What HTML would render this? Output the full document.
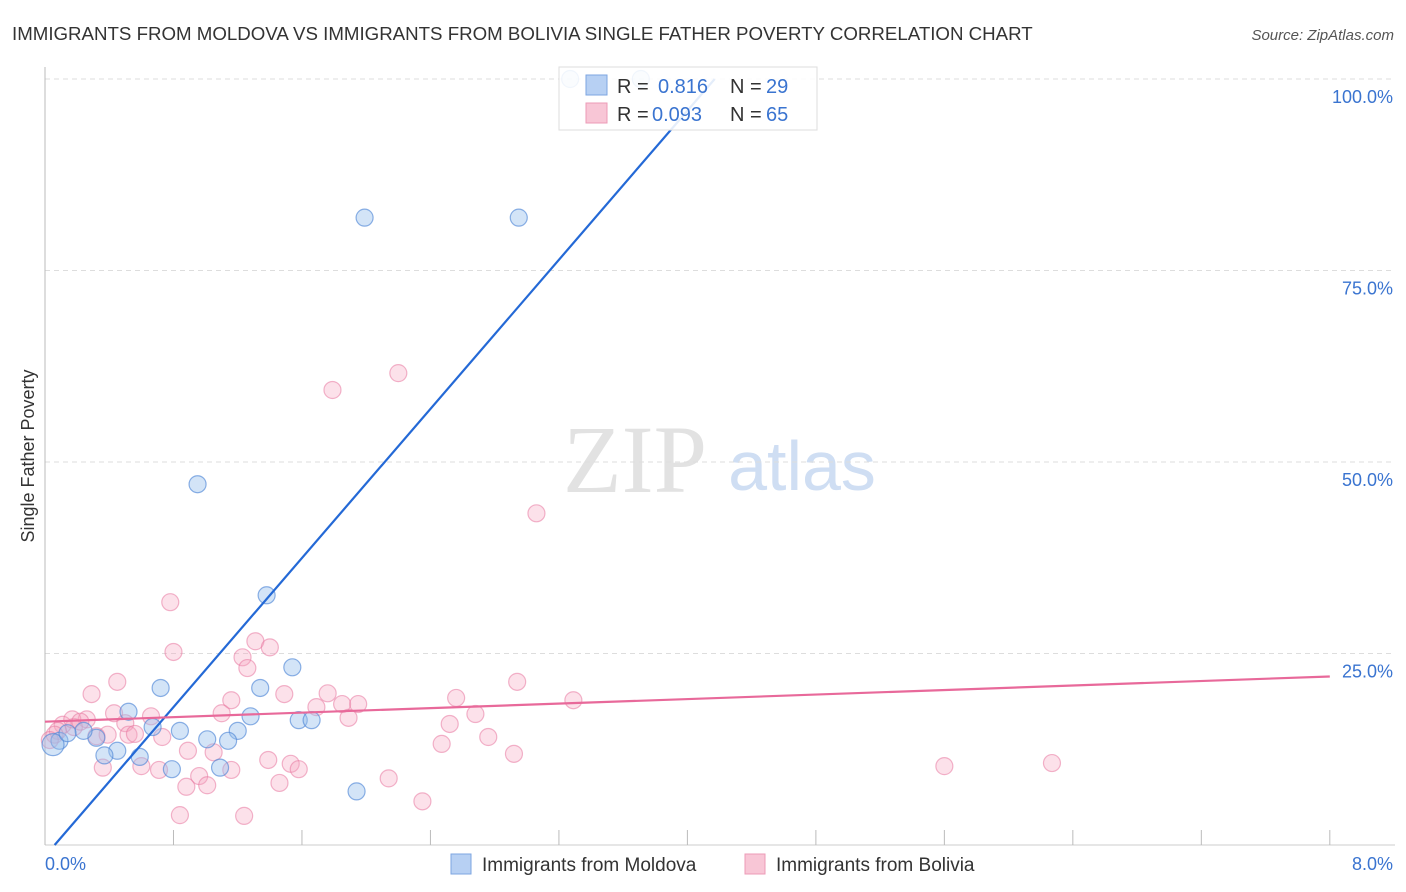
<!DOCTYPE html>
<html><head><meta charset="utf-8"><style>
body{margin:0;background:#fff;font-family:"Liberation Sans",sans-serif;}
svg{display:block}
</style></head><body>
<svg id="c" width="1406" height="892">
<text x="12" y="40" font-size="18.7" fill="#333">IMMIGRANTS FROM MOLDOVA VS IMMIGRANTS FROM BOLIVIA SINGLE FATHER POVERTY CORRELATION CHART</text>
<text x="1394" y="40" font-size="15" fill="#555" font-style="italic" text-anchor="end">Source: ZipAtlas.com</text>
<text x="34" y="456" font-size="18" fill="#333" text-anchor="middle" transform="rotate(-90 34 456)">Single Father Poverty</text>
<g>
<text x="635" y="492" font-size="96" fill="#e2e2e2" text-anchor="middle" font-family="Liberation Serif,serif">ZIP</text>
<text x="802" y="490" font-size="70" fill="#cfdef3" text-anchor="middle">atlas</text>
</g>
<g id="grid"></g><g id="ticks"></g><g id="pts"></g><g id="lines"></g>
<g>
<rect x="559" y="67" width="258" height="63" fill="rgba(255,255,255,0.88)" stroke="#ddd"/>
<rect x="586" y="75" width="21" height="20" fill="#b7d0f3" stroke="#7ea6e0"/>
<rect x="586" y="103" width="21" height="20" fill="#f8c6d6" stroke="#ec9bb7"/>
<text x="617" y="93" font-size="20" fill="#333">R = </text><text x="658" y="93" font-size="20" fill="#3a74d0">0.816</text>
<text x="730" y="93" font-size="20" fill="#333">N = </text><text x="766" y="93" font-size="20" fill="#3a74d0">29</text>
<text x="617" y="121" font-size="20" fill="#333">R = </text><text x="652" y="121" font-size="20" fill="#3a74d0">0.093</text>
<text x="730" y="121" font-size="20" fill="#333">N = </text><text x="766" y="121" font-size="20" fill="#3a74d0">65</text>
</g>
<g>
<rect x="451" y="854" width="20" height="20" fill="#b7d0f3" stroke="#7ea6e0"/>
<text x="482" y="871" font-size="19" fill="#333">Immigrants from Moldova</text>
<rect x="745" y="854" width="20" height="20" fill="#f8c6d6" stroke="#ec9bb7"/>
<text x="776" y="871" font-size="19" fill="#333">Immigrants from Bolivia</text>
</g>
</svg>
<script>
const blueX=[3.27,3.71,1.99,2.95,0.95,1.38,1.54,0.72,1.34,0.52,1.28,0.84,1.20,1.58,1.66,0.32,0.24,0.67,0.09,0.05,1.01,1.14,0.45,0.37,0.59,0.79,1.09,1.94,0.14];
const blueY=[100,100,81.9,81.9,47.1,32.6,23.2,20.5,20.5,17.4,16.8,14.9,14.9,16.3,16.3,14.0,14.9,15.4,13.6,13.1,13.8,13.6,12.3,11.7,11.5,9.9,10.1,7.0,14.6];
const pinkX=[1.79,2.20,3.06,0.78,0.80,1.31,1.40,1.23,1.26,0.45,0.29,1.16,1.49,1.76,1.85,1.95,2.56,2.94,3.29,0.26,0.43,0.66,0.50,1.10,1.69,1.89,0.39,0.73,0.32,0.52,0.56,2.52,2.68,2.76,2.47,2.92,0.89,1.05,1.39,1.53,1.58,0.71,0.60,0.36,0.96,1.16,0.88,1.01,1.46,2.14,2.35,0.84,1.24,5.60,6.27,0.18,0.11,0.08,0.17,0.22,0.06,0.03];
const pinkY=[59.4,61.6,43.3,31.7,25.2,26.6,25.8,24.5,23.1,21.3,19.7,18.9,19.7,19.8,18.4,18.4,19.2,21.3,18.9,16.4,17.2,16.8,15.9,17.2,18.0,16.6,14.4,14.1,14.2,14.4,14.5,15.8,17.1,14.1,13.2,11.9,12.3,12.1,11.1,10.6,9.9,9.8,10.3,10.1,9.0,9.8,7.6,7.8,8.1,8.7,5.7,3.9,3.8,10.3,10.7,15.4,15.7,14.9,16.4,16.1,14.4,13.7];
const blueTrend=[0.06,0,4.17,100];
const pinkTrend=[0,16.1,8,22.0];
const xTickLabels=["0.0%","8.0%"];
const yTicks=[25,50,75,100];
const yTickLabels=["25.0%","50.0%","75.0%","100.0%"];
const NS="http://www.w3.org/2000/svg";
const X=v=>45+v*160.6, Y=v=>845-v*7.66;
function mk(t,a,p){const e=document.createElementNS(NS,t);for(const k in a)e.setAttribute(k,a[k]);document.getElementById(p).appendChild(e);return e;}
yTicks.forEach((t,i)=>{
 const g=mk('line',{x1:45,x2:1395,y1:Y(t),y2:Y(t),stroke:'#ddd','stroke-dasharray':'5,4'},'grid');
 
 
 const l=mk('text',{x:1393,y:Y(t)+24,'font-size':18,fill:'#3a74d0','text-anchor':'end'},'ticks');l.textContent=yTickLabels[i];
 
 
});
const ax=mk('line',{x1:45,x2:45,y1:67,y2:845,stroke:'#bbb'},'ticks');


const bx=mk('line',{x1:45,x2:1395,y1:845,y2:845,stroke:'#ccc'},'ticks');


for(let i=0;i<=10;i++){const t=mk('line',{x1:X(i*0.8),x2:X(i*0.8),y1:830,y2:845,stroke:'#bbb'},'ticks');
 
 }
const t0=mk('text',{x:45,y:870,'font-size':18,fill:'#3a74d0'},'ticks');t0.textContent=xTickLabels[0];


const t1=mk('text',{x:1393,y:870,'font-size':18,fill:'#3a74d0','text-anchor':'end'},'ticks');t1.textContent=xTickLabels[1];


pinkX.forEach((v,i)=>{const c=mk('circle',{cx:X(v),cy:Y(pinkY[i]),r:8.5,fill:'rgba(245,165,192,0.33)',stroke:'rgba(232,120,160,0.55)','stroke-width':1.2},'pts');
 
 });
blueX.forEach((v,i)=>{const c=mk('circle',{cx:X(v),cy:Y(blueY[i]),r:i==19?11:8.5,fill:'rgba(150,190,235,0.42)',stroke:'rgba(80,135,215,0.65)','stroke-width':1.2},'pts');
 
 });
const bl=mk('line',{x1:X(blueTrend[0]),y1:Y(blueTrend[1]),x2:X(blueTrend[2]),y2:Y(blueTrend[3]),stroke:'#2469d6','stroke-width':2.2},'lines');


const pl=mk('line',{x1:X(pinkTrend[0]),y1:Y(pinkTrend[1]),x2:X(pinkTrend[2]),y2:Y(pinkTrend[3]),stroke:'#e8699a','stroke-width':2.2},'lines');


</script>
</body></html>
